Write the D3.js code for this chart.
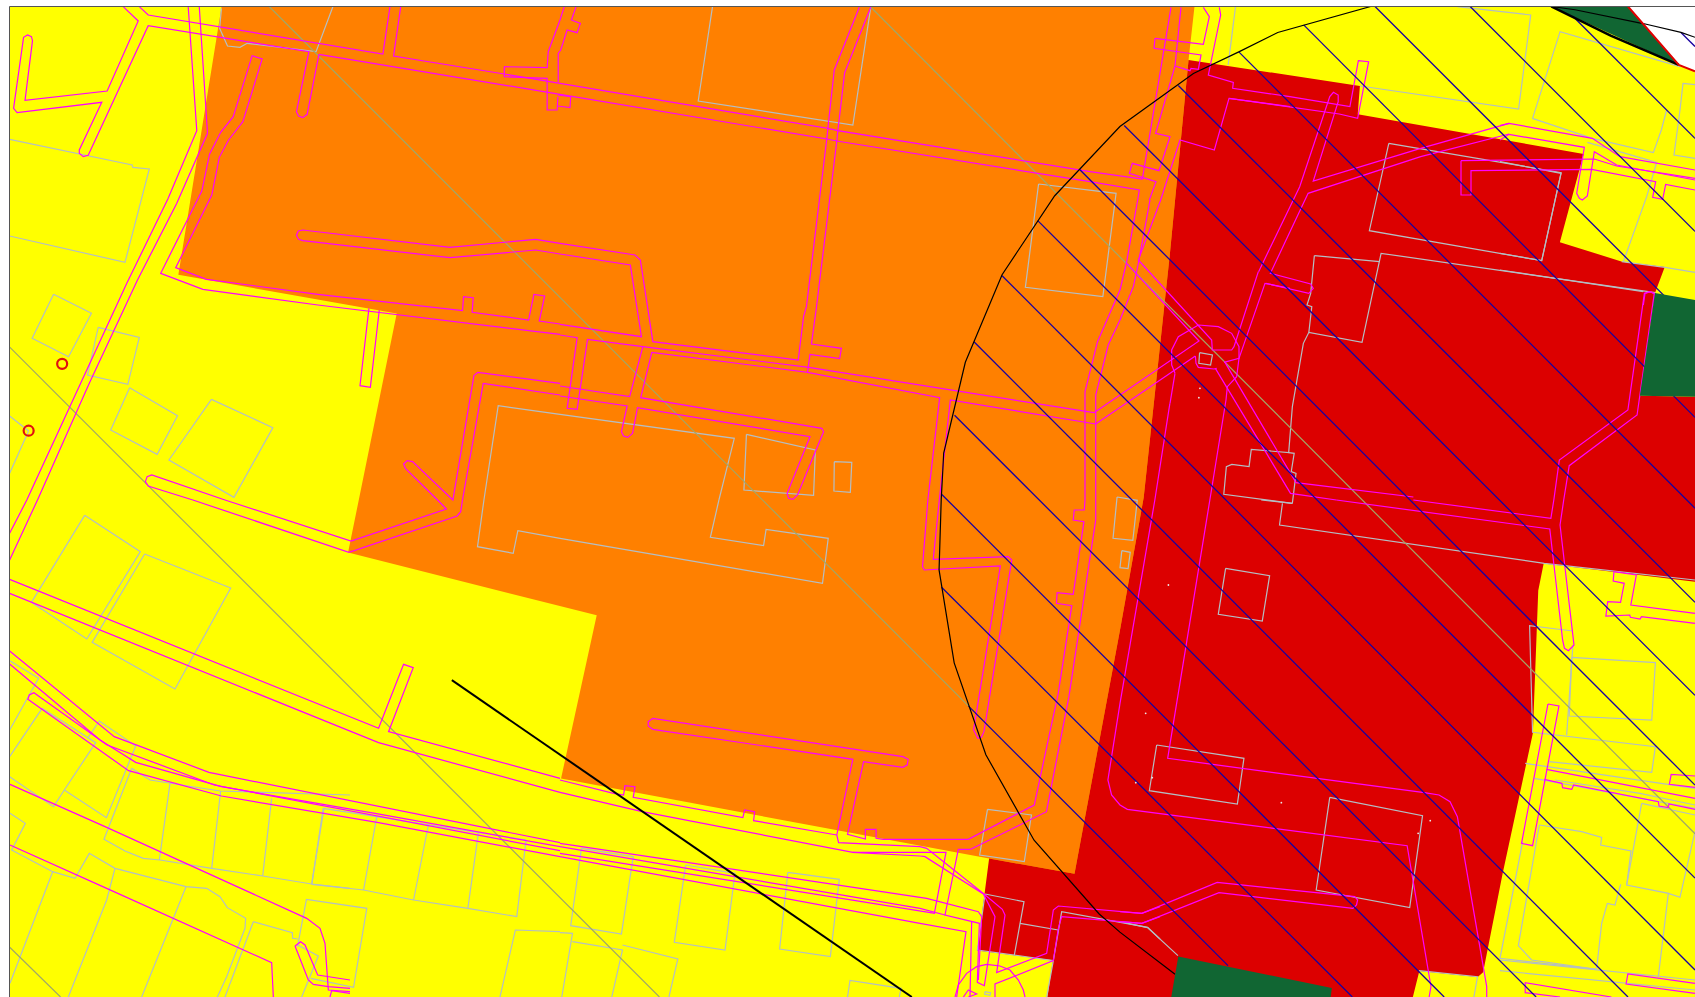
<!DOCTYPE html>
<html>
<head>
<meta charset="utf-8">
<title>Zoning map</title>
<script src="https://cdn.jsdelivr.net/npm/d3@7"></script>
<style>
  html, body { margin: 0; padding: 0; background: #fff; }
  svg { display: block; }
  path { fill: none; stroke-linejoin: miter; }
</style>
</head>
<body>
<svg id="map" width="1695" height="997"></svg>
<script>
// zones, in whole-sheet coordinates
const yellowZone = [[9,6],[1568,6],[1568,922],[9,922]];
const orangeZone = [[205,6],[1105,6],[1099.5,55.5],[1082,237],[1058,460],[1036,583],[994,808],[915,794],[519,720],[552,569],[322,511],[367,290],[165,254]];
const redZone = [[1099.5,55.5],[1258,79.5],[1256,105.7],[1465,142.4],[1443,224],[1500.6,242],[1540,247],[1531,271],[1517,366],[1568,367],[1568,538],[1428,521],[1423,546],[1418,678],[1390,808],[1372,899],[1367,903.6],[1313,898],[1307,922],[969,922],[974,888],[904,879],[915,794],[994,808],[1036,583],[1058,460],[1082,237]];
const whiteCorner = [[1506,6],[1553,60],[1568,66],[1568,6]];
const greenTop = [[1435,6],[1506,6],[1553,60]];
const greenEast = [[1531,271],[1568,277.5],[1568,367],[1517,366]];
const greenSouth = [[1090,884.5],[1232,913.6],[1231,922],[1083.5,922]];

const bufferArc = [[1568,34.5],[1555,30],[1521,22],[1457,9],[1435,6]];
const bufferCurve = [[1268,6],[1182,30],[1146,48],[1104,68],[1036,117],[975.7,181],[927,254],[893,335],[873,419],[870.7,462],[868.7,527],[882.7,613],[912,698],[956.6,777],[1016.6,845],[1036,862],[1087,901]];
const hatchLines = [
  [[896,653],[1136,893]], [[871,543],[1251,922]], [[871,457],[1336,922]], [[883,384],[1421,922]],
  [[901,316],[1506,922]], [[927,255],[1568,897]], [[960,204],[1568,812]], [[999,157],[1568,726]],
  [[1040,116],[1568,643]], [[1090,79],[1568,557]], [[1146,48],[1568,470]], [[1206,23],[1568,386]],
  [[1272,6],[1568,302]], [[1360,6],[1568,214]], [[1455,15],[1568,128]], [[1555,30],[1568,43]]
];
const diagonals = [[[249,6],[896,653]], [[805,6],[1568,771]], [[9,321],[610,922]], [[9,876],[56,922]]];
const pipeline = [[418,629],[843.5,922]];
const greenEdge = [[1435,6],[1490,33],[1553,60]];
const redEdge = [[1506,6],[1553,60],[1568,66]];
const wells = [[57.5,336.5],[26.5,398.3]];

// road outlines, one list per zoomed sheet
const roadsNW = [
  [[345,20],[387,63],[300,273],[70,301],[91,122],[88,110],[77,105],[66,112],[38,325],[48,338],[285,307],[222,450],[222,460],[233,470],[247,466],[415,77],[865,155],[830,335],[836,348],[848,353],[860,343],[893,163]],
  [[390,20],[415,45],[1072,162],[1092,20]],
  [[1412,200],[1412,230],[1532,235],[1532,330],[1560,330],[1562,290]],
  [[1412,200],[1532,203],[1535,155],[1568,60],[1580,20]],
  [[1568,730],[1500,718],[1260,742],[848,690],[835,693],[830,706],[836,718],[848,722],[1260,773],[1500,750],[1568,762]],
  [[1568,972],[1510,963],[1525,888],[1495,883],[1480,960],[1322,937],[1325,893],[1298,890],[1295,932],[890,883],[578,838],[492,803],[593,585],[614,472],[640,420],[680,365],[734,177],[706,167],[653,350],[618,397],[587,462],[565,573],[450,820],[568,868],[890,915],[1568,1003]],
  [[1033,925],[1008,1157],[1037,1162],[1062,930]],
  [[527,20],[551,392],[470,597],[355,850],[75,1500],[27,1600]],
  [[558,20],[581,400],[495,610],[385,840],[250,1150],[105,1500],[27,1680]],
  [[630,1500],[425,1425],[412,1430],[407,1445],[415,1458],[540,1500]]
];
const roadsN = [
  [[-446,20],[-466,168],[-156,222],[0,250],[750,385],[768,210],[838,22]],
  [[-675,163],[0,283],[747,417],[690,920],[682,950],[667,1080],[260,1025],[225,780],[210,765],[0,730]],
  [[870,22],[797,218],[778,392],[1484,515]],
  [[775,423],[1484,545]],
  [[750,385],[747,417]],
  [[778,392],[775,423]],
  [[750,385],[778,392]],
  [[747,417],[775,423]],
  [[45,20],[32,60],[57,70],[48,98],[20,90],[2,150],[-5,160],[-5,247]],
  [[-6,285],[30,290],[28,323],[-6,318]],
  [[0,762],[197,795],[228,1010],[0,973]],
  [[0,1005],[48,1013],[20,1225],[48,1228],[77,1018],[232,1040],[697,1102],[1495,1238]],
  [[232,1040],[195,1190],[0,1158]],
  [[0,1188],[188,1218],[172,1295],[178,1308],[190,1312],[203,1300],[217,1223],[700,1310],[636,1480],[640,1495],[652,1498],[665,1485],[738,1295],[733,1285],[226,1193],[257,1057],[693,1117],[700,1063],[783,1076],[788,1045],[704,1032],[717,930],[775,423]],
  [[693,1117],[1063,1193],[1030,1500]],
  [[1062,1500],[1093,1200],[1500,1272]],
  [[1470,1500],[1470,1175],[1505,1025],[1568,870]],
  [[1500,1500],[1500,1185],[1535,1035],[1568,960]]
];
const roadsNE = [
  [[463,290],[627,320],[650,182],[678,185],[648,355],[598,342],[298,295]],
  [[378,815],[490,560],[572,290],[582,277],[595,285],[595,305],[527,543],[820,445],[1061,370]],
  [[1061,402],[820,470],[513,580],[410,820],[520,852],[527,865],[515,880],[398,850]],
  [[285,1085],[480,1448],[800,1491]],
  [[260,1105],[465,1480],[590,1500]],
  [[1210,1500],[1225,1397],[1410,1245],[1457,880],[1445,875],[1430,880],[1385,1230],[1198,1380],[1183,1500]]
];
const roadsSW = [
  [[630,0],[983,123],[1250,27],[1225,0],[1135,-95],[1130,-108],[1140,-118],[1155,-115],[1268,0],[1327,-373],[1338,-383],[1568,-350]],
  [[540,0],[977,157],[1280,48],[1290,35],[1295,0],[1353,-350],[1568,-315]],
  [[27,238],[1060,685],[1130,493],[1157,503],[1088,695],[1568,835]],
  [[27,280],[1060,728],[1568,877]],
  [[27,453],[320,710],[585,817],[1568,1028]],
  [[27,492],[280,720],[380,787],[620,860],[1050,940],[1568,1040]],
  [[300,735],[600,855],[1568,1052]],
  [[300,735],[95,578],[82,585],[78,598],[360,812],[620,888],[1060,968],[1568,1070]]
];
const roadsS = [
  [[1470,0],[1468,30],[1440,30],[1437,60],[1467,65],[1437,283],[1392,278],[1390,310],[1433,317],[1395,580],[1328,915],[1143,1018],[905,1018],[885,1015],[885,988],[855,988],[855,1017],[805,1003],[850,785],[960,802],[972,795],[975,778],[960,770],[260,655],[247,665],[247,678],[260,688],[820,778],[775,1005],[780,1028],[1008,1040]],
  [[1500,0],[1500,60],[1425,590],[1362,935],[1150,1048]],
  [[0,840],[150,880],[178,885],[182,857],[210,860],[205,892],[512,953],[517,930],[545,935],[542,962],[775,1005]],
  [[0,877],[230,935],[820,1057],[1008,1057]],
  [[820,1057],[1008,1068]],
  [[0,1030],[1008,1192]],
  [[0,1040],[1008,1225]],
  [[0,1060],[1050,1240]],
  [[0,1070],[1008,1270]],
  [[1030,0],[1015,200],[1020,210],[1233,198],[1158,690],[1170,715],[1180,712],[1187,695],[1265,180],[1255,170],[1045,178],[1062,0]]
];
const roadsSE = [
  [[800,0],[1175,55],[1183,0]],
  [[590,0],[1172,87],[1207,420],[1212,445],[1223,452],[1238,435],[1200,75],[1210,0]],
  [[289,-300],[245,0],[130,775],[830,878],[870,885],[900,905],[920,950],[1000,1460],[1000,1491]],
  [[136,-290],[95,0],[0,610],[-33,840],[-23,885],[0,915],[20,928],[783,1037],[848,1460],[843,1491]],
  [[0,1235],[60,1240],[265,1147],[640,1190],[648,1200],[645,1215],[635,1225],[270,1178],[60,1270],[0,1265]],
  [[1347,215],[1345,243],[1375,250],[1365,307],[1330,305],[1325,348],[1390,345],[1392,352],[1418,357],[1422,350],[1568,370]],
  [[1347,215],[1408,225],[1393,315],[1568,340]],
  [[1167,612],[1197,618],[1125,1037],[1095,1030],[1167,612]],
  [[1163,808],[1568,895]],
  [[1157,838],[1205,850],[1207,863],[1232,868],[1237,855],[1468,905],[1470,918],[1495,923],[1497,912],[1568,928]],
  [[1568,828],[1503,823],[1498,853],[1568,862]],
  [[1568,1450],[1385,1422],[1380,1452],[1568,1480]],
  [[1340,1491],[1105,1448],[1105,1478],[1200,1491]]
];
// closer crops around the two junctions
const roadsHubTop = [
  [[0,515],[157,537],[243,22]],
  [[273,22],[255,198],[197,400],[240,410],[207,512],[127,490],[118,520],[198,545],[178,600]],
  [[0,545],[148,570],[143,600]],
  [[195,115],[340,133],[358,50],[340,22]],
  [[195,115],[192,145],[333,165],[325,208],[303,205],[300,212],[255,198]],
  [[388,22],[392,45],[355,225],[430,247],[428,265],[600,290]],
  [[600,320],[417,295],[373,450],[270,420],[212,600]]
];
const roadsHub = [
  [[143,0],[110,185],[90,270]],
  [[180,0],[145,190],[130,260],[90,360]],
  [[212,0],[145,180],[365,420],[367,450],[425,450],[432,440],[505,215]],
  [[110,190],[327,423],[12,638]],
  [[316,468],[17,672]],
  [[600,265],[525,250],[447,475],[402,487]],
  [[316,468],[318,490],[325,502],[372,507],[380,505]],
  [[255,520],[245,495],[245,450],[265,410],[325,375],[385,380],[425,400],[447,440],[447,475],[440,530],[412,560],[408,600]],
  [[255,520],[240,610]]
];
const roadsEast = [
  [[0,47],[27,40],[277,85],[360,140],[585,180]],
  [[0,90],[27,73],[253,112],[230,250],[238,265],[247,270],[262,258],[283,125],[350,165],[585,210]],
  [[-117,152],[283,147],[350,168],[585,205]],
  [[-117,152],[-117,255],[-87,255],[-87,182],[275,178],[467,215],[458,262],[488,268],[497,223],[585,240]],
  [[430,585],[435,550],[450,545],[465,552],[460,585]]
];
const roadsJunction = [
  [[0,80],[20,85],[192,222],[247,268],[255,285],[230,458],[380,400],[400,270],[415,258],[665,280],[720,260]],
  [[0,108],[15,110],[190,222],[225,290],[193,497],[172,487],[178,310],[75,285],[115,88],[152,88]],
  [[0,97],[78,97],[43,280]],
  [[0,232],[20,235],[175,275],[185,290],[175,480]],
  [[0,265],[75,285]],
  [[155,303],[150,531]],
  [[0,310],[138,335],[110,531]],
  [[225,531],[225,492],[400,422],[415,325],[425,290],[665,310],[720,290]],
  [[105,531],[115,495],[140,460],[170,440],[200,433],[240,438],[270,450],[295,480],[310,510],[315,531]],
  [[130,531],[145,510],[170,522],[145,531]]
];
const roadsSouthWest = [
  [[30,133],[320,262],[920,535],[960,565],[975,610],[985,750],[1050,755]],
  [[30,315],[320,445],[815,668],[820,771]],
  [[885,618],[902,605],[915,615],[953,705],[1050,720]],
  [[885,618],[925,720],[940,733],[985,740],[1050,745]],
  [[990,771],[995,752],[1050,760]]
];

// parcel outlines
const parcelsNW = [
  [[27,418],[370,495],[372,502],[418,507],[350,787],[27,708]],
  [[150,883],[256,940],[192,1070],[90,1015],[150,883]],
  [[275,982],[390,1012],[358,1153],[245,1125],[275,982]],
  [[363,1163],[497,1247],[440,1363],[310,1290],[363,1163]],
  [[592,1198],[764,1283],[655,1492],[473,1380],[592,1198]],
  [[27,1248],[80,1293],[27,1420]],
  [[620,25],[615,85],[637,138],[672,142],[692,130],[885,155],[932,20]],
  [[1568,1243],[1395,1217],[1355,1500]]
];
const parcelsN = [
  [[427,20],[387,303],[820,375],[870,22]],
  [[1340,552],[1557,580],[1520,890],[1303,862],[1340,552]],
  [[0,1243],[488,1315],[445,1500]],
  [[522,1303],[715,1350],[710,1486],[515,1470],[522,1303]],
  [[768,1385],[817,1387],[813,1477],[767,1473],[768,1385]]
];
const parcelsNE = [
  [[315,20],[295,195]],
  [[920,20],[1120,45],[1087,327],[655,258]],
  [[1527,200],[1200,95],[1125,355]],
  [[733,430],[1203,518],[1150,782],[680,692],[733,430]],
  [[530,767],[708,785]],
  [[1460,878],[712,760],[660,1027],[515,997],[500,1030],[470,1220],[460,1358],[358,1348],[352,1400],[305,1393],[290,1400],[283,1483],[470,1510]],
  [[530,767],[520,880],[510,915],[523,920],[515,997]],
  [[460,1358],[475,1360],[467,1415],[480,1420],[470,1510]],
  [[217,1058],[252,1065],[247,1095],[215,1090],[217,1058]]
];
const parcelsEast = [
  [[97,25],[277,85],[460,128],[484,60],[500,0]],
  [[540,0],[549,-80],[585,-76]],
  [[540,0],[522,135],[585,145]],
  [[262,97],[470,157],[440,260],[370,455]],
  [[365,455],[495,472],[585,487]],
  [[0,155],[183,190],[125,452],[0,430]],
  [[0,480],[430,545]]
];
const parcelsSW = [
  [[1355,0],[1337,140],[1437,160],[1450,92],[1568,115]],
  [[237,46],[393,155],[243,417],[88,307],[237,46]],
  [[405,162],[646,264],[490,567],[258,427],[405,162]],
  [[27,482],[108,535],[27,690]],
  [[27,770],[118,625],[268,728],[180,870],[150,920],[27,830]],
  [[180,870],[298,953],[380,738],[278,663],[245,715]],
  [[833,1340],[858,1198],[1027,1225],[990,1462],[870,1435]],
  [[905,925],[873,1153]],
  [[1055,950],[1018,1170]],
  [[1200,972],[1158,1200]],
  [[1340,995],[1310,1225]],
  [[873,1153],[1018,1170],[1158,1200],[1310,1225],[1447,1250],[1473,1020]],
  [[905,925],[1473,1020]],
  [[1568,1295],[1443,1290],[1400,1491]]
];
const parcelsSouthWest = [
  [[395,85],[450,120],[660,153],[1050,165]],
  [[395,85],[312,298],[375,333],[430,355],[480,360],[635,385],[788,408],[935,432],[1050,445]],
  [[510,130],[478,360]], [[662,153],[635,385]], [[815,175],[788,408]], [[972,205],[935,432]],
  [[30,220],[76,250],[35,330],[158,395],[225,415],[268,340],[345,385],[558,440],[620,445],[660,470],[682,503],[737,535],[735,565],[680,710],[652,771]],
  [[158,395],[30,730]],
  [[345,385],[320,480],[205,771]],
  [[558,440],[520,535],[425,771]],
  [[760,545],[675,771]],
  [[760,545],[877,578],[878,595],[893,597]],
  [[893,615],[955,648],[905,771]]
];
const parcelsS = [
  [[445,0],[421,112],[570,137],[577,88],[751,115],[735,250],[0,115]],
  [[1197,928],[1320,945],[1300,1085],[1175,1065],[1197,928]],
  [[60,1045],[205,1070],[172,1302],[30,1277],[60,1045]],
  [[352,1095],[490,1120],[462,1350],[320,1327],[352,1095]],
  [[638,1117],[782,1138],[757,1370],[615,1347],[638,1117]],
  [[0,1298],[35,1300],[5,1491]],
  [[35,1325],[175,1350],[145,1491]],
  [[175,1335],[330,1377],[305,1491]],
  [[950,1491],[955,1465],[812,1441],[805,1491]]
];
const parcelsSE = [
  [[470,10],[385,0]],
  [[443,10],[435,75],[1157,190],[1568,240]],
  [[-8,-9],[47,1],[35,121],[-19,115],[-8,-9]],
  [[5,152],[28,157],[22,206],[0,203],[5,152]],
  [[288,205],[408,227],[388,363],[268,343],[288,205]],
  [[100,735],[338,775],[320,912],[80,872],[100,735]],
  [[572,892],[825,947],[790,1223],[535,1170],[572,892]],
  [[0,1265],[75,1283],[158,1367]],
  [[1235,393],[1117,377],[1125,697],[1460,740],[1450,817],[1170,785]],
  [[1232,472],[1460,488],[1450,660],[1225,648],[1232,472]],
  [[1235,435],[1218,705]],
  [[1105,790],[1568,865]],
  [[1130,835],[1568,925]],
  [[815,1412],[975,1430],[965,1491]]
];
const parcelsJunction = [
  [[195,222],[312,245],[283,405],[172,390],[195,222]],
  [[300,310],[415,330]],
  [[720,357],[683,322],[425,275],[400,422],[380,531]],
  [[283,405],[400,422]],
  [[195,515],[212,518],[210,526],[194,523],[195,515]]
];
const parcelsSouthEast = [
  [[118,135],[245,155],[305,172],[302,195],[393,213],[380,315],[505,340],[475,590]],
  [[118,135],[55,497],[95,540],[290,568]],
  [[425,70],[585,105]],
  [[425,70],[380,315]],
  [[585,155],[540,352],[505,340]],
  [[362,313],[345,375],[322,370],[305,430],[290,565]],
  [[68,185],[0,535],[290,568]],
  [[0,540],[585,600]],
  [[0,572],[585,630]],
  [[165,0],[420,40],[585,75]]
];
const specksNE = [[218,1165],[215,1193]];
const specksSE = [[132,255],[70,640],[88,833],[43,848],[440,908],[846,962],[813,1000]];

const svg = d3.select("#map");
const width = +svg.attr("width");
const height = +svg.attr("height");
const frame = {left: 9.5, top: 6.5};

// each sheet maps its own reading grid onto the page
function sheet(x0, y0, w, h, gridW, gridH) {
  return {
    x: d3.scaleLinear().domain([0, gridW]).range([x0, x0 + w]),
    y: d3.scaleLinear().domain([0, gridH]).range([y0, y0 + h])
  };
}
const whole = sheet(0, 0, width, height, 1568, 922);
const nw = sheet(0, 0, 560, 500, 1568, 1500);
const n = sheet(560, 0, 560, 500, 1568, 1500);
const ne = sheet(1120, 0, 575, 500, 1568, 1500);
const sw = sheet(0, 500, 560, 497, 1568, 1491);
const s = sheet(560, 500, 560, 497, 1568, 1491);
const se = sheet(1120, 500, 575, 497, 1568, 1491);
const hubTop = sheet(1090, 0, 200, 200, 600, 600);
const hub = sheet(1090, 200, 200, 200, 600, 600);
const east = sheet(1500, 110, 195, 195, 585, 585);
const junction = sheet(920, 820, 240, 177, 720, 531);
const southWest = sheet(0, 740, 350, 257, 1050, 771);
const southEast = sheet(1500, 780, 195, 217, 585, 651);

const lineOn = t => d3.line().x(d => t.x(d[0])).y(d => t.y(d[1]));

svg.append("clipPath").attr("id", "frameClip")
  .append("rect")
  .attr("x", frame.left).attr("y", frame.top)
  .attr("width", width - frame.left).attr("height", height - frame.top);

const g = svg.append("g").attr("clip-path", "url(#frameClip)");

function fillZone(points, color) {
  g.append("path")
    .attr("d", lineOn(whole)(points) + "Z")
    .style("fill", color);
}

function strokeLines(list, t, color, w) {
  g.append("g").selectAll("path")
    .data(list)
    .join("path")
    .attr("d", lineOn(t))
    .attr("stroke", color)
    .attr("stroke-width", w);
}

fillZone(yellowZone, "#ffff00");
fillZone(orangeZone, "#ff8000");
fillZone(redZone, "#dc0000");
fillZone(whiteCorner, "#ffffff");
fillZone(greenTop, "#116633");

const parcelColor = "#b4bec4";
[[parcelsNW, nw], [parcelsN, n], [parcelsNE, ne], [parcelsEast, east], [parcelsSW, sw],
 [parcelsSouthWest, southWest], [parcelsS, s], [parcelsSE, se], [parcelsJunction, junction],
 [parcelsSouthEast, southEast]].forEach(([list, t]) => strokeLines(list, t, parcelColor, 1.2));

strokeLines(diagonals, whole, "#a0a868", 1.2);

[[roadsNW, nw], [roadsN, n], [roadsNE, ne], [roadsSW, sw], [roadsS, s], [roadsSE, se],
 [roadsHubTop, hubTop], [roadsHub, hub], [roadsEast, east], [roadsJunction, junction],
 [roadsSouthWest, southWest]].forEach(([list, t]) => strokeLines(list, t, "#ff00ff", 1.2));

strokeLines(hatchLines, whole, "#1800a0", 1.3);
strokeLines([bufferCurve, bufferArc], whole, "#000000", 1.2);

fillZone(greenEast, "#116633");
fillZone(greenSouth, "#116633");

strokeLines([greenEdge], whole, "#000000", 2.5);
strokeLines([redEdge], whole, "#e00000", 2);
strokeLines([pipeline], whole, "#000000", 2);

g.selectAll("circle.well")
  .data(wells)
  .join("circle")
  .attr("class", "well")
  .attr("cx", d => whole.x(d[0]))
  .attr("cy", d => whole.y(d[1]))
  .attr("r", 5)
  .attr("fill", "none")
  .attr("stroke", "#e01010")
  .attr("stroke-width", 2.2);

[[specksNE, ne], [specksSE, se]].forEach(([list, t]) => {
  g.append("g").selectAll("circle")
    .data(list)
    .join("circle")
    .attr("cx", d => t.x(d[0]))
    .attr("cy", d => t.y(d[1]))
    .attr("r", 0.9)
    .attr("fill", "#e8e8e8");
});

// sheet border, only left and top fall inside the page
svg.append("path")
  .attr("d", `M${frame.left},${height}V${frame.top}H${width}`)
  .attr("stroke", "#555555")
  .attr("stroke-width", 1);
</script>
</body>
</html>
